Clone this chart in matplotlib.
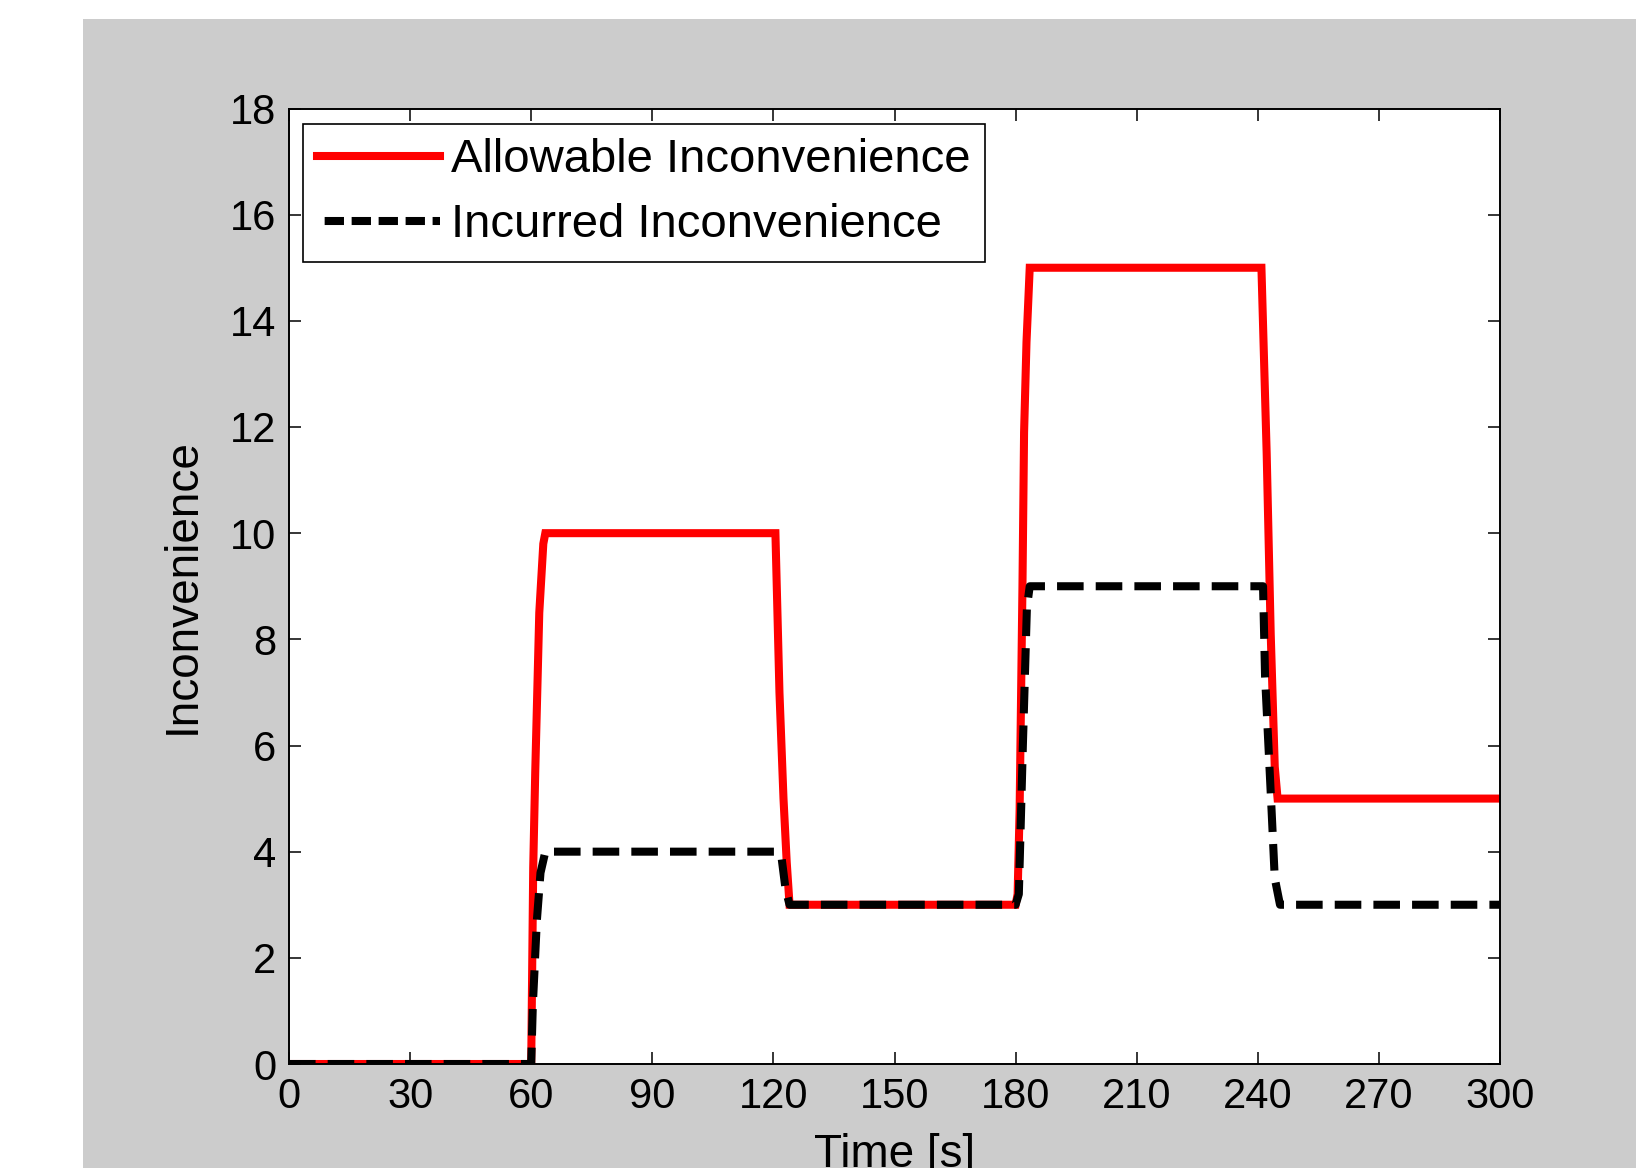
import matplotlib as mp
mp.use("Agg")
import matplotlib.pyplot as plt
from matplotlib.patches import Rectangle

plt.rcParams["font.family"] = ["Liberation Sans", "DejaVu Sans"]

## data ##
allow_t = [0, 60, 60.5, 61, 62, 63, 63.5, 120.5, 121.5, 122.5, 123.3, 124,
           180, 180.5, 181, 181.7, 182.1, 182.7, 183.5, 240.9, 242.2, 243.2, 244.2, 244.9, 300]
allow_v = [0, 0, 3.7, 5.5, 8.5, 9.8, 10, 10, 7.0, 5.0, 3.8, 3,
           3, 3.2, 4.8, 9.0, 11.9, 13.6, 15, 15, 11.5, 8.1, 5.6, 5, 5]

incur_t = [0, 60, 60.4, 61.4, 62.3, 63.5, 120.5, 122, 123, 124,
           180, 180.8, 181.8, 182.8, 183.5, 241.3, 241.8, 243.4, 244.2, 245.5, 300]
incur_v = [0, 0, 1.1, 2.7, 3.6, 4, 4, 3.9, 3.3, 3,
           3, 3.2, 6.0, 8.6, 9, 9, 7.3, 4.8, 3.5, 3, 3]

xticks = [0, 30, 60, 90, 120, 150, 180, 210, 240, 270, 300]
yticks = [0, 2, 4, 6, 8, 10, 12, 14, 16, 18]

W, H = 1636, 1168
fig = plt.figure(figsize=(W/100., H/100.), dpi=100, facecolor="white")
# grey matlab window area, offset from the top-left corner
fig.patches.append(Rectangle((83./W, 0), 1-83./W, 1-19./H, transform=fig.transFigure,
                             facecolor="#cccccc", edgecolor="none", zorder=-10))

ax = fig.add_axes([289./W, 1-1064./H, (1500-289.)/W, (1064-108.5)/H])
ax.set_facecolor("white")

ax.plot(allow_t, allow_v, color="red", lw=5.8, label="Allowable Inconvenience",
        solid_joinstyle="miter")
ax.plot(incur_t, incur_v, color="black", lw=5.8, dashes=(3.3, 1.5),
        label="Incurred Inconvenience", dash_capstyle="butt")

ax.set_xlim(0, 300)
ax.set_ylim(0, 18)
ax.set_xticks(xticks)
ax.set_yticks(yticks)
ax.tick_params(direction="in", length=8.5, width=1.1, labelsize=30, pad=9,
               top=True, right=True, colors="black")
for s in ax.spines.values():
    s.set_linewidth(1.4)

ax.set_xlabel("Time [s]", fontsize=33, va="top")
ax.xaxis.set_label_coords(0.5, -0.072)
ax.set_ylabel("Inconvenience", fontsize=33, va="center")
ax.yaxis.set_label_coords(-0.0875, 0.5)

leg = ax.legend(loc="upper left", bbox_to_anchor=(13.6/1211., 1-15.5/955.5),
                borderaxespad=0, fontsize=34, handlelength=2.6, handletextpad=0.25,
                labelspacing=0.45, borderpad=0.3, fancybox=False, framealpha=1)
leg.get_frame().set_edgecolor("black")
leg.get_frame().set_linewidth(1.2)
# legend dash pattern: starts with a gap, three dashes
leg.get_lines()[1].set_linestyle((2.4, (2.4, 0.95)))

fig.savefig("out.png", dpi=100)
